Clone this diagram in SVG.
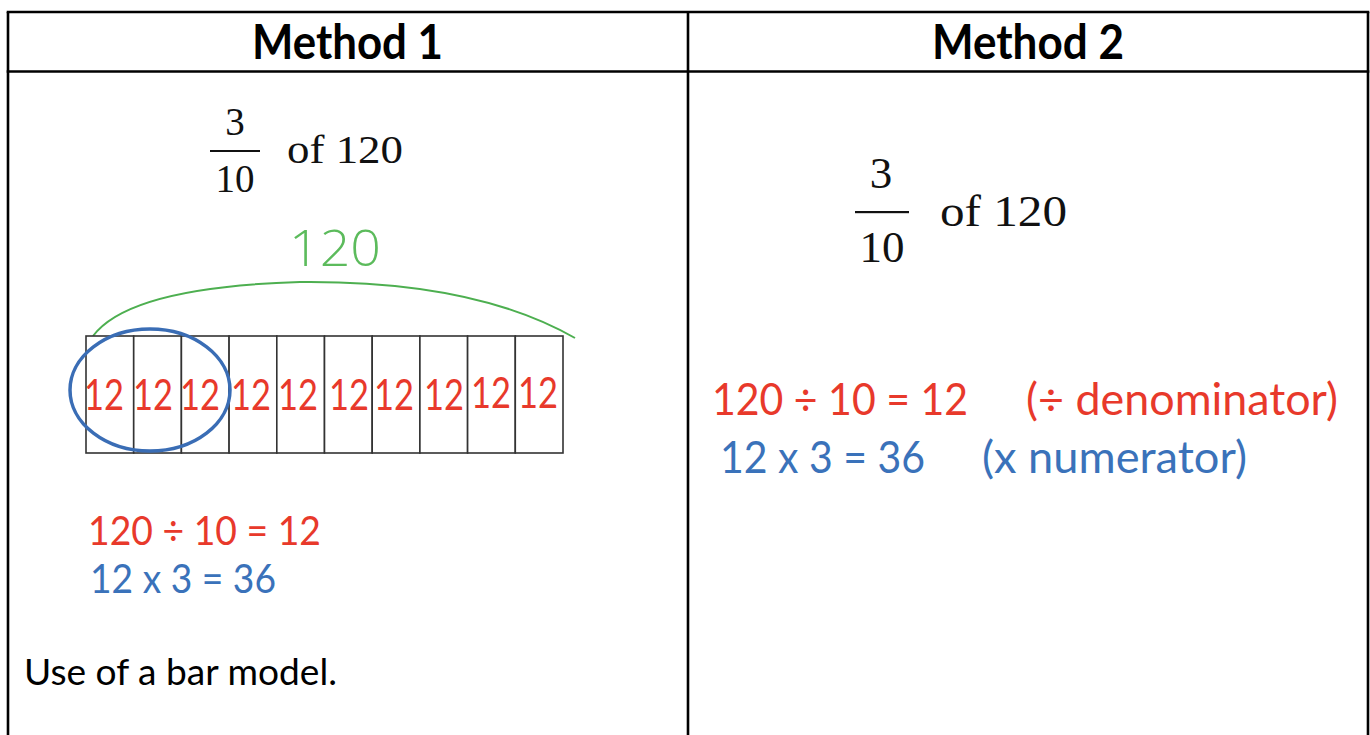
<svg xmlns="http://www.w3.org/2000/svg" width="1370" height="735" viewBox="0 0 1370 735">
<style>
.grid{stroke:#000;stroke-width:2.6;fill:none}
.hdr{font-family:Lato,"Open Sans","Liberation Sans",sans-serif;font-weight:bold;font-size:47px;fill:#000}
.cal{font-family:Lato,"Open Sans","Liberation Sans",sans-serif;}
.red{fill:#E8392B}
.blue{fill:#3A72BA}
.math{font-family:"Liberation Serif","Times New Roman",serif;fill:#111}
.cell{fill:#fff;stroke:#333;stroke-width:1.6}
.twelve{font-family:Lato,"Open Sans","Liberation Sans",sans-serif;font-size:42px;fill:#E8392B}
</style>
<rect width="1370" height="735" fill="#fff"/>
<g id="table">
<line class="grid" x1="6.7" y1="12" x2="1369.3" y2="12"/>
<line class="grid" x1="6.7" y1="71.5" x2="1369.3" y2="71.5"/>
<line class="grid" x1="8" y1="12" x2="8" y2="735"/>
<line class="grid" x1="688" y1="12" x2="688" y2="735"/>
<line class="grid" x1="1368" y1="12" x2="1368" y2="735"/>
<text class="hdr" x="252" y="59" textLength="191" lengthAdjust="spacingAndGlyphs">Method 1</text>
<text class="hdr" x="932" y="59" textLength="192" lengthAdjust="spacingAndGlyphs">Method 2</text>
</g>
<g id="fraction-left" class="math">
<text x="235" y="135" font-size="39" text-anchor="middle">3</text>
<rect x="210" y="150" width="50" height="2" fill="#111"/>
<text x="235" y="192" font-size="39" text-anchor="middle">10</text>
<text x="287" y="163" font-size="39" textLength="116" lengthAdjust="spacingAndGlyphs">of 120</text>
</g>
<g id="bar-model">
<path d="M93,336 C120,300 200,285 300,282 C400,281 500,295 575,338" fill="none" stroke="#4DAF50" stroke-width="2"/>
<text x="289" y="266" font-family="'Open Sans',Lato,sans-serif" font-weight="300" font-size="50" fill="#5CBB5C" textLength="92" lengthAdjust="spacingAndGlyphs">120</text>
<rect class="cell" x="86" y="336" width="47.7" height="117"/>
<rect class="cell" x="133.7" y="336" width="47.7" height="117"/>
<rect class="cell" x="181.4" y="336" width="47.7" height="117"/>
<rect class="cell" x="229.1" y="336" width="47.7" height="117"/>
<rect class="cell" x="276.8" y="336" width="47.7" height="117"/>
<rect class="cell" x="324.5" y="336" width="47.7" height="117"/>
<rect class="cell" x="372.2" y="336" width="47.7" height="117"/>
<rect class="cell" x="419.9" y="336" width="47.7" height="117"/>
<rect class="cell" x="467.6" y="336" width="47.7" height="117"/>
<rect class="cell" x="515.3" y="336" width="47.7" height="117"/>
<text class="twelve" x="84" y="410" textLength="40" lengthAdjust="spacingAndGlyphs">12</text>
<text class="twelve" x="133" y="410" textLength="40" lengthAdjust="spacingAndGlyphs">12</text>
<text class="twelve" x="180" y="410" textLength="40" lengthAdjust="spacingAndGlyphs">12</text>
<text class="twelve" x="231" y="410" textLength="40" lengthAdjust="spacingAndGlyphs">12</text>
<text class="twelve" x="278" y="410" textLength="40" lengthAdjust="spacingAndGlyphs">12</text>
<text class="twelve" x="329" y="410" textLength="40" lengthAdjust="spacingAndGlyphs">12</text>
<text class="twelve" x="374" y="410" textLength="40" lengthAdjust="spacingAndGlyphs">12</text>
<text class="twelve" x="424" y="410" textLength="40" lengthAdjust="spacingAndGlyphs">12</text>
<text class="twelve" x="471" y="408" textLength="40" lengthAdjust="spacingAndGlyphs">12</text>
<text class="twelve" x="518" y="408" textLength="40" lengthAdjust="spacingAndGlyphs">12</text>
<ellipse cx="150" cy="390" rx="80" ry="61" fill="none" stroke="#3A6DB5" stroke-width="3.5"/>
</g>
<g id="calc-left" class="cal">
<text class="red" x="88" y="545" font-size="40" textLength="233" lengthAdjust="spacingAndGlyphs">120 ÷ 10 = 12</text>
<text class="blue" x="90" y="593" font-size="40" textLength="186" lengthAdjust="spacingAndGlyphs">12 x 3 = 36</text>
<text x="24" y="685" font-size="37" fill="#000" textLength="313" lengthAdjust="spacingAndGlyphs">Use of a bar model.</text>
</g>
<g id="fraction-right" class="math">
<text x="881" y="188" font-size="45" text-anchor="middle">3</text>
<rect x="855" y="211" width="54" height="2.2" fill="#111"/>
<text x="882" y="262" font-size="45" text-anchor="middle">10</text>
<text x="940" y="226" font-size="45" textLength="127" lengthAdjust="spacingAndGlyphs">of 120</text>
</g>
<g id="calc-right" class="cal">
<text class="red" x="712" y="415" font-size="45" textLength="256" lengthAdjust="spacingAndGlyphs">120 ÷ 10 = 12</text>
<text class="red" x="1026" y="415" font-size="45" textLength="312" lengthAdjust="spacingAndGlyphs">(÷ denominator)</text>
<text class="blue" x="720" y="473" font-size="45" textLength="205" lengthAdjust="spacingAndGlyphs">12 x 3 = 36</text>
<text class="blue" x="982" y="473" font-size="45" textLength="265" lengthAdjust="spacingAndGlyphs">(x numerator)</text>
</g>
</svg>
